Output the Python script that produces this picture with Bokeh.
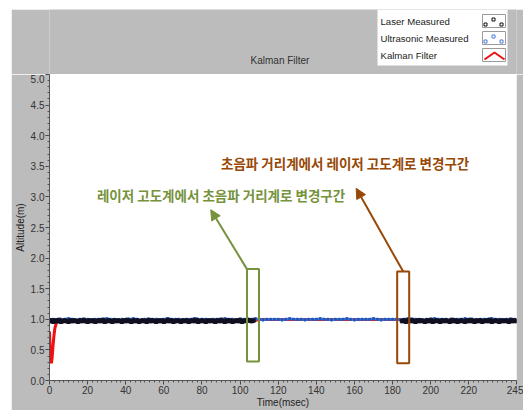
from bokeh.plotting import figure
from bokeh.models import BoxAnnotation, Label, Arrow, NormalHead, FixedTicker, Range1d, Spacer
from bokeh.layouts import column, row
from bokeh.embed import file_html
from bokeh.resources import INLINE
from bokeh.core.properties import value

# ---- axis ticks -------------------------------------------------------
x_ticks = [0, 20, 40, 60, 80, 100, 120, 140, 160, 180, 200, 220, 245]
x_tick_labels = ["0", "20", "40", "60", "80", "100", "120", "140", "160", "180", "200", "220", "245"]
y_ticks = [0.0, 0.5, 1.0, 1.5, 2.0, 2.5, 3.0, 3.5, 4.0, 4.5, 5.0]
y_tick_labels = ["0.0", "0.5", "1.0", "1.5", "2.0", "2.5", "3.0", "3.5", "4.0", "4.5", "5.0"]

# ---- laser altimeter samples (two segments) ---------------------------
laser_t1 = list(range(0, 108))
laser_v1 = [
    0.97, 0.98, 0.96, 0.98, 0.97, 0.99, 0.96, 0.97, 0.98, 0.97, 0.96, 0.98,
    0.97, 0.98, 0.97, 0.96, 0.98, 0.97, 0.99, 0.97, 0.96, 0.98, 0.97, 0.98,
    0.96, 0.97, 0.98, 0.97, 0.99, 0.96, 0.97, 0.98, 0.97, 0.96, 0.98, 0.97,
    0.98, 0.97, 0.96, 0.98, 0.97, 0.99, 0.97, 0.96, 0.98, 0.97, 0.98, 0.96,
    0.97, 0.98, 0.97, 0.96, 0.99, 0.97, 0.98, 0.97, 0.96, 0.98, 0.97, 0.98,
    0.96, 0.97, 0.99, 0.97, 0.98, 0.96, 0.97, 0.98, 0.97, 0.96, 0.98, 0.97,
    0.98, 0.96, 0.97, 0.98, 0.97, 0.99, 0.96, 0.97, 0.98, 0.97, 0.96, 0.98,
    0.97, 0.98, 0.97, 0.96, 0.98, 0.97, 0.99, 0.97, 0.96, 0.98, 0.97, 0.98,
    0.96, 0.97, 0.98, 0.97, 0.99, 0.96, 0.97, 0.98, 0.99, 0.98, 0.97, 0.98,
]
laser_t2 = list(range(185, 246))
laser_v2 = [
    0.97, 0.98, 0.96, 0.98, 0.97, 0.99, 0.97, 0.96, 0.98, 0.97,
    0.98, 0.97, 0.96, 0.98, 0.97, 0.99, 0.96, 0.97, 0.98, 0.97,
    0.96, 0.98, 0.97, 0.98, 0.97, 0.96, 0.99, 0.97, 0.98, 0.96,
    0.97, 0.98, 0.97, 0.96, 0.98, 0.97, 0.99, 0.97, 0.96, 0.98,
    0.97, 0.98, 0.96, 0.97, 0.98, 0.97, 0.99, 0.96, 0.97, 0.98,
    0.97, 0.96, 0.98, 0.97, 0.98, 0.97, 0.96, 0.99, 0.97, 0.98,
    0.97,
]

# ---- ultrasonic range finder samples ---------------------------------
ultra_t = list(range(0, 246, 2))
ultra_v = [
    1.00, 1.00, 0.99, 1.00, 1.00, 1.01, 1.00, 0.99, 1.00, 1.00,
    1.00, 0.99, 1.00, 1.00, 1.00, 1.01, 1.00, 1.00, 0.99, 1.00,
    1.00, 1.00, 1.01, 1.00, 0.99, 1.00, 1.00, 1.00, 1.00, 0.99,
    1.00, 1.01, 1.00, 1.00, 1.00, 0.99, 1.00, 1.00, 1.01, 1.00,
    1.00, 1.00, 0.99, 1.00, 1.00, 1.00, 1.01, 1.00, 1.00, 0.99,
    1.00, 1.00, 1.00, 1.00, 1.01, 1.00, 0.99, 1.00, 1.00, 1.00,
    1.00, 0.99, 1.00, 1.01, 1.00, 1.00, 1.00, 0.99, 1.00, 1.00,
    1.00, 1.01, 1.00, 1.00, 0.99, 1.00, 1.00, 1.00, 1.01, 1.00,
    0.99, 1.00, 1.00, 1.00, 1.00, 1.01, 1.00, 0.99, 1.00, 1.00,
    1.00, 1.00, 0.99, 1.00, 1.01, 1.00, 1.00, 1.00, 0.99, 1.00,
    1.00, 1.01, 1.00, 1.00, 1.00, 0.99, 1.00, 1.00, 1.00, 1.01,
    1.00, 1.00, 0.99, 1.00, 1.00, 1.00, 1.01, 1.00, 1.00, 0.99,
    1.00, 1.00, 1.00,
]

# ---- Kalman filter estimate ------------------------------------------
kalman_t = [0.0, 0.3, 0.7, 1.0, 1.4, 1.8, 2.3, 2.8, 3.5, 4.5, 6.0, 107.0, 110.0, 185.0, 188.0, 245.0]
kalman_v = [0.80, 0.55, 0.35, 0.28, 0.38, 0.55, 0.72, 0.85, 0.93, 0.97, 0.975, 0.975, 0.995, 0.995, 0.975, 0.975]

# ---- sensor switch-over windows (t0, t1, alt0, alt1) ------------------
to_ultra_window = (103.6, 109.9, 0.31, 1.82)
to_laser_window = (182.4, 188.7, 0.28, 1.78)
to_ultra_text = "레이저 고도계에서 초음파 거리계로 변경구간"
to_laser_text = "초음파 거리계에서 레이저 고도계로 변경구간"

legend_names = ["Laser Measured", "Ultrasonic Measured", "Kalman Filter"]
chart_title = "Kalman Filter"

GREEN = "#76923c"
BROWN = "#984806"
PANEL = "#bcbcbc"
BLUE = "#4a7fd8"
RED = "#ee1111"
FONT = "Liberation Sans"

# page geometry (pixels): white page margin, then the grey panel
MARGIN_L, MARGIN_T = 11, 9
FL, FR, FT, FB = 49, 516, 74, 381
PAGE_W, PAGE_H = 523, 410

# ---------------- header strip: title + legend -------------------------
# the column layout aligns this strip's frame with the plot frame below,
# so its x range spans the frame's page pixels
head = figure(
    width=PAGE_W - MARGIN_L, height=FT - MARGIN_T,
    min_border_left=FL - MARGIN_L, min_border_right=PAGE_W - FR,
    min_border_top=0, min_border_bottom=0,
    x_range=Range1d(FL, FR), y_range=Range1d(FT, MARGIN_T),
    output_backend="svg", toolbar_location=None,
    background_fill_color=PANEL, border_fill_color=PANEL, outline_line_color=None,
)
head.axis.visible = False
head.grid.visible = False

head.text(x=[(FL + FR) / 2 - 3], y=[60], text=[chart_title], text_align="center", text_baseline="middle",
          text_font=value(FONT), text_font_size="10px", text_color="#333333")

# legend panel
head.quad(left=[377], right=[507], top=[9], bottom=[65], fill_color="white", line_color=None)
row_y = [21, 38, 55]
head.text(x=[380] * 3, y=row_y, text=legend_names, text_baseline="middle",
          text_font=value(FONT), text_font_size="9.6px", text_color="#222222")
head.quad(left=[482] * 3, right=[505] * 3, top=[y - 7 for y in row_y], bottom=[y + 6 for y in row_y],
          fill_color="white", line_color="#9a9a9a", line_width=1)
sw_dx = [485, 493, 501]
sw_dy = [3, -2, 3]
head.scatter(x=sw_dx, y=[row_y[0] + d for d in sw_dy], marker="square", size=3,
             fill_color=None, line_color="#111111", line_width=1)
head.scatter(x=sw_dx, y=[row_y[1] + d for d in sw_dy], marker="square", size=3,
             fill_color=None, line_color=BLUE, line_width=1)
head.line(x=[484, 494, 504], y=[row_y[2] + 4, row_y[2] - 3, row_y[2] + 4], line_color=RED, line_width=2)

# ---------------- main altitude plot -----------------------------------
p = figure(
    width=PAGE_W - MARGIN_L, height=PAGE_H - FT,
    min_border_left=FL - MARGIN_L, min_border_right=PAGE_W - FR,
    min_border_top=0, min_border_bottom=PAGE_H - FB,
    x_range=(0, 245), y_range=(0, 5),
    output_backend="svg", toolbar_location=None,
    border_fill_color=PANEL, background_fill_color="white",
    outline_line_color=None,
)
p.grid.visible = False

p.xaxis.ticker = FixedTicker(ticks=x_ticks, minor_ticks=[i * 2.5 for i in range(0, 99)])
p.xaxis.major_label_overrides = {t: s for t, s in zip(x_ticks, x_tick_labels)}
p.yaxis.ticker = FixedTicker(ticks=y_ticks, minor_ticks=[i / 10 for i in range(0, 51)])
p.yaxis.major_label_overrides = {t: s for t, s in zip(y_ticks, y_tick_labels)}
p.xaxis.axis_label = "Time(msec)"
p.yaxis.axis_label = "Altitude(m)"
for ax in (p.xaxis, p.yaxis):
    ax.axis_line_color = "#555555"
    ax.major_tick_line_color = "#444444"
    ax.minor_tick_line_color = "#555555"
    ax.major_tick_in = 0
    ax.major_tick_out = 4
    ax.minor_tick_in = 0
    ax.minor_tick_out = 2
    ax.major_label_text_font = FONT
    ax.major_label_text_font_size = "10px"
    ax.major_label_text_color = "#333333"
    ax.axis_label_text_font = FONT
    ax.axis_label_text_font_size = "10px"
    ax.axis_label_text_font_style = "normal"
    ax.axis_label_text_color = "#222222"
p.xaxis.major_label_standoff = 1
p.xaxis.axis_label_standoff = 0
p.yaxis.major_label_standoff = 1
p.yaxis.axis_label_standoff = 2

# data series
p.line(kalman_t, kalman_v, line_color=RED, line_width=3)
p.line(ultra_t, ultra_v, line_color=BLUE, line_width=2.5)
p.scatter(ultra_t, ultra_v, marker="square", size=2, color="#2255bb")
p.scatter(laser_t1, laser_v1, marker="square", size=3.5, color="#111122")
p.scatter(laser_t2, laser_v2, marker="square", size=3.5, color="#111122")

# switch-over windows and callouts
for (t0, t1, a0, a1), col in ((to_ultra_window, GREEN), (to_laser_window, BROWN)):
    p.add_layout(BoxAnnotation(left=t0, right=t1, bottom=a0, top=a1, fill_alpha=0,
                               line_color=col, line_alpha=1, line_width=2))

p.add_layout(Arrow(x_start=to_ultra_window[0], y_start=to_ultra_window[3],
                   x_end=84.6, y_end=2.79, line_color=GREEN, line_width=2,
                   end=NormalHead(size=10, fill_color=GREEN, line_color=GREEN)))
p.add_layout(Arrow(x_start=(to_laser_window[0] + to_laser_window[1]) / 2, y_start=to_laser_window[3],
                   x_end=160.9, y_end=3.14, line_color=BROWN, line_width=2,
                   end=NormalHead(size=10, fill_color=BROWN, line_color=BROWN)))

p.add_layout(Label(x=90.0, y=3.03, text=to_ultra_text, text_align="center", text_baseline="middle",
                   text_font="Noto Sans CJK KR", text_font_style="bold", text_font_size="13.5px",
                   text_color=GREEN))
p.add_layout(Label(x=155.1, y=3.55, text=to_laser_text, text_align="center", text_baseline="middle",
                   text_font="Noto Sans CJK KR", text_font_style="bold", text_font_size="13.5px",
                   text_color=BROWN))

layout = column(
    Spacer(width=PAGE_W, height=MARGIN_T),
    row(Spacer(width=MARGIN_L, height=PAGE_H - MARGIN_T), column(head, p)),
)

open("out.html", "w").write(file_html(layout, INLINE))
